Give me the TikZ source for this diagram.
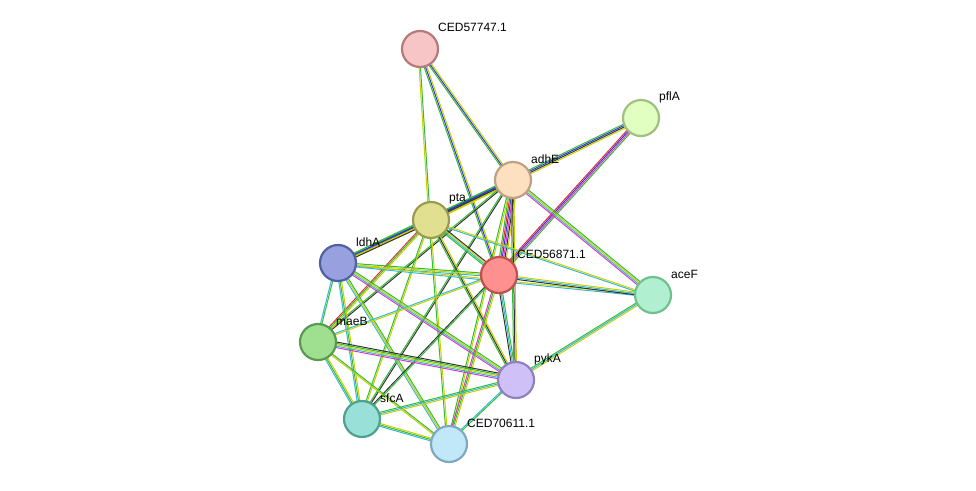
\documentclass[tikz,border=0pt]{standalone}
\usepackage{fontspec}
\setmainfont{Liberation Sans}
\usetikzlibrary{calc}
\definecolor{cg}{HTML}{33BB33}
\definecolor{cb}{HTML}{3333DD}
\definecolor{ck}{HTML}{333333}
\definecolor{cy}{HTML}{C8D000}
\definecolor{cc}{HTML}{33B8D8}
\definecolor{cm}{HTML}{D838C8}
\definecolor{cr}{HTML}{E03030}
\tikzset{
 prot/.style={circle,minimum size=36pt,inner sep=0pt,line width=2.2pt},
 lab/.style={anchor=west,font=\fontsize{12}{13}\selectfont,inner sep=0pt},
 ed/.style={line width=1pt}
}
\newcommand\E[3]{%
 \foreach \c [count=\i] in {#3} {%
  \pgfmathsetmacro\o{(\i-2.5)*1.4}%
  \draw[ed,draw=\c] ($(#1)!\o pt!90:(#2)$) -- ($(#2)!\o pt!-90:(#1)$);
 }}
\begin{document}
\begin{tikzpicture}[x=1pt,y=-1pt]
\useasboundingbox (0,0) rectangle (976,490);
\coordinate (n1) at (420,49);
\coordinate (n2) at (641,118);
\coordinate (n3) at (513,180);
\coordinate (n4) at (431,220);
\coordinate (n5) at (338,263);
\coordinate (n6) at (499,275);
\coordinate (n7) at (653,295);
\coordinate (n8) at (318,342);
\coordinate (n9) at (516,380);
\coordinate (n10) at (362,419);
\coordinate (n11) at (449,444);
\E{n1}{n3}{cg,cb,cy}
\E{n1}{n6}{cg,cb,cy}
\E{n1}{n4}{cy,cg}
\E{n2}{n3}{cg,cb,ck,cy}
\E{n2}{n6}{cr,cb,cm,cg}
\E{n3}{n4}{cg,cb,ck,cy}
\E{n3}{n5}{cg,cb,ck,cy}
\E{n3}{n6}{cg,cr,cb,cm,ck,cy}
\E{n3}{n7}{cm,cc,cy,cg}
\E{n3}{n8}{cg,ck}
\E{n3}{n9}{cg,ck,cy}
\E{n3}{n10}{cg,ck}
\E{n3}{n11}{cg,cy}
\E{n4}{n5}{cg,cb,cy,ck}
\E{n4}{n6}{cg,cc,cy,ck}
\E{n4}{n7}{cc,cy}
\E{n4}{n8}{cr,cg,cy}
\E{n4}{n9}{cg,ck,cy}
\E{n4}{n10}{cg,cy}
\E{n4}{n11}{cg,cy}
\E{n5}{n6}{cc,cy,cg}
\E{n5}{n7}{cc,cy}
\E{n5}{n8}{cc,cg}
\E{n5}{n9}{cm,cc,cy,cg}
\E{n5}{n10}{cc,cg,cy}
\E{n5}{n11}{cc,cy,cg}
\E{n6}{n7}{ck,cc,cy}
\E{n6}{n8}{cc,cy}
\E{n6}{n9}{ck,cc,cg}
\E{n6}{n10}{ck,cg}
\E{n6}{n11}{cm,cg,cy}
\E{n7}{n9}{cg,cc,cy}
\E{n8}{n9}{cm,cc,cy,cg,ck}
\E{n8}{n10}{cc,cg,cy}
\E{n8}{n11}{cy,cg}
\E{n9}{n10}{cg,cc,cy}
\E{n9}{n11}{cc,cg}
\E{n10}{n11}{cc,cg,cy}
\node[prot,fill={rgb,255:red,247;green,197;blue,197},draw={rgb,255:red,181;green,122;blue,122}] (a1) at (n1) {};
\node[prot,fill={rgb,255:red,224;green,255;blue,192},draw={rgb,255:red,160;green,192;blue,128}] (a2) at (n2) {};
\node[prot,fill={rgb,255:red,253;green,224;blue,192},draw={rgb,255:red,192;green,160;blue,128}] (a3) at (n3) {};
\node[prot,fill={rgb,255:red,224;green,224;blue,144},draw={rgb,255:red,154;green,154;blue,80}] (a4) at (n4) {};
\node[prot,fill={rgb,255:red,152;green,160;blue,224},draw={rgb,255:red,80;green,96;blue,160}] (a5) at (n5) {};
\node[prot,fill={rgb,255:red,255;green,144;blue,144},draw={rgb,255:red,192;green,80;blue,80}] (a6) at (n6) {};
\node[prot,fill={rgb,255:red,176;green,240;blue,208},draw={rgb,255:red,112;green,192;blue,144}] (a7) at (n7) {};
\node[prot,fill={rgb,255:red,158;green,224;blue,144},draw={rgb,255:red,90;green,154;blue,80}] (a8) at (n8) {};
\node[prot,fill={rgb,255:red,208;green,192;blue,248},draw={rgb,255:red,144;green,128;blue,192}] (a9) at (n9) {};
\node[prot,fill={rgb,255:red,152;green,224;blue,216},draw={rgb,255:red,80;green,160;blue,144}] (a10) at (n10) {};
\node[prot,fill={rgb,255:red,192;green,232;blue,248},draw={rgb,255:red,128;green,168;blue,192}] (a11) at (n11) {};
\node[lab] (l1) at ($(n1)+(18,-22)$) {CED57747.1};
\node[lab] (l2) at ($(n2)+(18,-21)$) {pflA};
\node[lab] (l3) at ($(n3)+(18,-21)$) {adhE};
\node[lab] (l4) at ($(n4)+(18,-21)$) {pta};
\node[lab] (l5) at ($(n5)+(18,-21)$) {ldhA};
\node[lab] (l6) at ($(n6)+(18,-21)$) {CED56871.1};
\node[lab] (l7) at ($(n7)+(18,-21)$) {aceF};
\node[lab] (l8) at ($(n8)+(18,-21)$) {maeB};
\node[lab] (l9) at ($(n9)+(18,-21)$) {pykA};
\node[lab] (l10) at ($(n10)+(18,-21)$) {sfcA};
\node[lab] (l11) at ($(n11)+(18,-21)$) {CED70611.1};
\end{tikzpicture}
\end{document}
